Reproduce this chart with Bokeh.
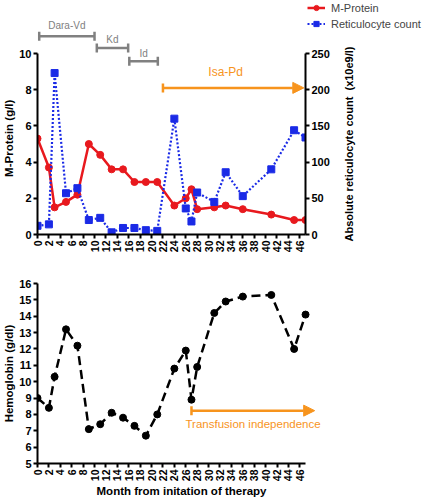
import math
from bokeh.plotting import figure
from bokeh.models import (Range1d, LinearAxis, Legend, LegendItem, Arrow, TeeHead,
                          NormalHead, ColumnDataSource, FixedTicker)
from bokeh.embed import file_html
from bokeh.resources import INLINE
from bokeh.core.properties import value

# ---------------- data ----------------
months = [0, 2, 3, 5, 7, 9, 11, 13, 15, 17, 19, 21, 24, 26, 27, 28, 31, 33, 36, 41, 45, 47]
mprotein = [5.3, 3.7, 1.5, 1.8, 2.2, 5.0, 4.4, 3.6, 3.6, 2.9, 2.9, 2.9, 1.6, 2.0, 2.5,
            1.4, 1.5, 1.6, 1.4, 1.1, 0.8, 0.8]
reticulocytes = [12, 14, 223, 57, 64, 20, 23, 3, 9, 9, 6, 5, 160, 36, 18, 58, 45, 86,
                 53, 90, 144, 134]
hemoglobin = [9.0, 8.4, 10.3, 13.2, 12.2, 7.1, 7.4, 8.1, 7.8, 7.3, 6.7, 8.0, 10.8, 11.9,
              8.9, 10.9, 14.2, 14.9, 15.2, 15.3, 12.0, 14.1]

regimens = ["Dara-Vd", "Kd", "Id"]
regimen_start = [0.3, 10.4, 16.1]
regimen_end = [10.0, 15.9, 21.1]
isa_label = "Isa-Pd"
isa_start, isa_end = 22.0, 46.7
tf_label = "Transfusion independence"
tf_start, tf_end = 27.0, 48.6

month_ticks = list(range(0, 47, 2))
mp_ticks = [0, 2, 4, 6, 8, 10]
ret_ticks = [0, 50, 100, 150, 200, 250]
hb_ticks = list(range(5, 17))

right_title = "Absolute reticulocyte count\u00a0 (x10e9/l)"

# ---------------- style ----------------
FONT = "Liberation Sans"
RED = "#e8191e"
BLUE = "#1a2ae6"
GRAY = "#808080"
ORANGE = "#f7941d"
NB = "\u00a0"

regimen_bar_y = [10.95, 10.3, 9.57]
regimen_lab_y = [11.55, 10.8, 10.0]
isa_bar_y, isa_lab_y = 8.1, 8.97
tf_bar_y, tf_lab_y = 8.23, 7.4

W = 424
TOP_H = 262
TOP_BOTTOM = 28
BOT_H = 238


def style_axis(ax, size="11px"):
    ax.axis_line_width = 2
    ax.axis_line_color = "black"
    ax.major_tick_line_width = 2
    ax.major_tick_line_color = "black"
    ax.major_tick_out = 4
    ax.major_tick_in = 0
    ax.minor_tick_line_color = None
    ax.major_label_text_font = FONT
    ax.major_label_text_font_style = "bold"
    ax.major_label_text_font_size = size
    ax.major_label_text_color = "black"
    ax.major_label_standoff = 2
    ax.axis_label_text_font = FONT
    ax.axis_label_text_font_style = "bold"
    ax.axis_label_text_font_size = "11.5px"
    ax.axis_label_text_color = "black"
    ax.axis_label_standoff = 1


# ---------------- top chart ----------------
frame_h = TOP_H - TOP_BOTTOM
mp_top = 10 * frame_h / (frame_h - 53)
p = figure(width=W, height=TOP_H, output_backend="svg", toolbar_location=None,
           x_range=Range1d(0, 47), y_range=Range1d(0, mp_top),
           min_border_left=34, min_border_right=W - 305, min_border_top=0,
           min_border_bottom=TOP_BOTTOM)
p.outline_line_color = None
p.xgrid.grid_line_color = None
p.ygrid.grid_line_color = None
p.extra_y_ranges = {"ret": Range1d(0, mp_top * 25)}

p.xaxis.ticker = FixedTicker(ticks=month_ticks)
p.xaxis.major_label_orientation = math.pi / 2
p.yaxis.ticker = FixedTicker(ticks=mp_ticks)
p.yaxis.bounds = (0, 10)
p.yaxis.axis_label = "M-Protein (g/l)" + NB * 13
style_axis(p.xaxis[0])
style_axis(p.yaxis[0])
p.xaxis.major_label_text_font_size = "10.5px"

rax = LinearAxis(y_range_name="ret", ticker=FixedTicker(ticks=ret_ticks), bounds=(0, 250))
style_axis(rax)
p.add_layout(rax, "right")

p.line(months, mprotein, line_color=RED, line_width=2.5)
p.scatter(months, mprotein, marker="circle", size=7, fill_color=RED, line_color=RED)
p.line(months, reticulocytes, y_range_name="ret", line_color=BLUE, line_width=2.2,
       line_dash="2 2")
p.scatter(months, reticulocytes, y_range_name="ret", marker="square", size=7,
          fill_color=BLUE, line_color=BLUE)

reg_src = ColumnDataSource(dict(name=regimens, start=regimen_start, end=regimen_end,
                                y=regimen_bar_y, ly=regimen_lab_y,
                                mid=[(a + b) / 2 for a, b in zip(regimen_start, regimen_end)]))
p.add_layout(Arrow(source=reg_src, x_start="start", x_end="end", y_start="y", y_end="y",
                   line_color=GRAY, line_width=2.5,
                   start=TeeHead(size=9, line_color=GRAY, line_width=2.5),
                   end=TeeHead(size=9, line_color=GRAY, line_width=2.5)))
p.text(x="mid", y="ly", text="name", source=reg_src, text_font=value(FONT),
       text_font_size="10px", text_color=GRAY, text_align="center", text_baseline="middle")

p.add_layout(Arrow(x_start=isa_start, x_end=isa_end, y_start=isa_bar_y, y_end=isa_bar_y,
                   line_color=ORANGE, line_width=2.5,
                   start=TeeHead(size=9, line_color=ORANGE, line_width=2.5),
                   end=NormalHead(size=11, fill_color=ORANGE, line_color=ORANGE)))
p.text(x=[33], y=[isa_lab_y], text=[isa_label], text_font=value(FONT),
       text_font_size="12px", text_color=ORANGE, text_align="center", text_baseline="middle")

# ------- transparent overlay on the top chart: legend + right axis title (upward) -------
lf = figure(width=W, height=TOP_H, output_backend="svg", toolbar_location=None,
            x_axis_type=None, y_axis_type=None, x_range=Range1d(0, W),
            y_range=Range1d(0, TOP_H), min_border=0)
lf.styles = {"margin-top": f"-{TOP_H}px"}
lf.outline_line_color = None
lf.background_fill_color = None
lf.border_fill_color = None
lf.extra_x_ranges = {"hide": Range1d(-2, -1)}
lr_line = lf.line(months, mprotein, x_range_name="hide", line_color=RED, line_width=2.5)
lr_pts = lf.scatter(months, mprotein, x_range_name="hide", marker="circle", size=7,
                    fill_color=RED, line_color=RED)
lb_line = lf.line(months, reticulocytes, x_range_name="hide", line_color=BLUE,
                  line_width=2.2, line_dash="2 2")
lb_pts = lf.scatter(months, reticulocytes, x_range_name="hide", marker="square", size=7,
                    fill_color=BLUE, line_color=BLUE)
legend = Legend(items=[LegendItem(label="M-Protein", renderers=[lr_line, lr_pts]),
                       LegendItem(label="Reticulocyte count", renderers=[lb_line, lb_pts])],
                location=(307, TOP_H - 30), orientation="vertical")
legend.border_line_alpha = 0
legend.background_fill_alpha = 0
legend.label_text_font = FONT
legend.label_text_font_size = "11px"
legend.label_standoff = 6
legend.glyph_width = 18
legend.glyph_height = 13
legend.label_height = 13
legend.spacing = 3
legend.padding = 0
legend.margin = 0
lf.add_layout(legend)
lf.text(x=[348], y=[TOP_H - 143.5], text=[right_title], angle=math.pi / 2,
        text_font=value(FONT), text_font_style="bold", text_font_size="11px",
        text_color="black", text_align="center", text_baseline="middle")

# ---------------- bottom chart ----------------
q = figure(width=W, height=BOT_H, output_backend="svg", toolbar_location=None,
           x_range=Range1d(0, 50.5), y_range=Range1d(5, 16),
           min_border_left=34, min_border_right=W - 325, min_border_top=21,
           min_border_bottom=34)
q.outline_line_color = None
q.xgrid.grid_line_color = None
q.ygrid.grid_line_color = None
q.xaxis.ticker = FixedTicker(ticks=month_ticks)
q.xaxis.bounds = (0, 47)
q.xaxis.major_label_orientation = math.pi / 2
q.xaxis.axis_label = "Month from initation of therapy"
q.yaxis.ticker = FixedTicker(ticks=hb_ticks)
q.yaxis.axis_label = "Hemoglobin (g/dl)"
style_axis(q.xaxis[0])
style_axis(q.yaxis[0])
q.xaxis.major_label_text_font_size = "10.5px"

q.line(months, hemoglobin, line_color="black", line_width=2.5, line_dash="9 5")
q.scatter(months, hemoglobin, marker="circle", size=7, fill_color="black", line_color="black")

q.add_layout(Arrow(x_start=tf_start, x_end=tf_end, y_start=tf_bar_y, y_end=tf_bar_y,
                   line_color=ORANGE, line_width=2.5,
                   start=TeeHead(size=9, line_color=ORANGE, line_width=2.5),
                   end=NormalHead(size=11, fill_color=ORANGE, line_color=ORANGE)))
q.text(x=[(tf_start + tf_end) / 2], y=[tf_lab_y], text=[tf_label], text_font=value(FONT),
       text_font_size="11.5px", text_color=ORANGE, text_align="center",
       text_baseline="middle")

open("out.html", "w").write(file_html([p, lf, q], INLINE))
